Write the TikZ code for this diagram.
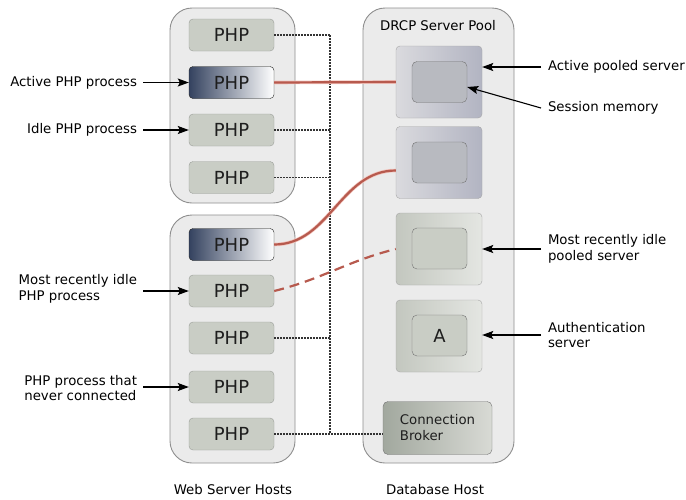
\documentclass[tikz,border=0pt]{standalone}
\usepackage{fontspec}
\setmainfont{DejaVu Sans}
\usetikzlibrary{arrows.meta}

\definecolor{hostfill}{HTML}{EBEBEB}
\definecolor{hostedge}{HTML}{8E8E8E}
\definecolor{phpfill}{HTML}{C9CDC5}
\definecolor{phpedge}{HTML}{9A9E98}
\definecolor{navy}{HTML}{34425F}
\definecolor{busyleft}{HTML}{DADADE}
\definecolor{busyright}{HTML}{B2B4C2}
\definecolor{idleleft}{HTML}{C3C7BF}
\definecolor{idleright}{HTML}{E4E6E2}
\definecolor{memfill}{HTML}{B8BAC0}
\definecolor{brokerleft}{HTML}{A2A89E}
\definecolor{brokerright}{HTML}{D8DAD5}
\definecolor{linkred}{HTML}{B75A4E}
\definecolor{linkhalo}{HTML}{F2C4BC}
\definecolor{textgray}{HTML}{1E1E1E}

\begin{document}
\begin{tikzpicture}[x=1pt, y=-1pt,
  host/.style={rectangle, rounded corners=22pt, draw=hostedge, fill=hostfill, line width=0.9pt, minimum width=125pt},
  php/.style={rectangle, rounded corners=4pt, draw=phpedge, fill=phpfill, minimum width=85pt, minimum height=32pt, inner sep=0pt, text=textgray, font=\fontsize{18}{20}\selectfont},
  activephp/.style={php, draw=black!85, left color=navy, middle color=navy!50, right color=white},
  pool/.style={rectangle, rounded corners=4pt, draw=black!35, minimum width=86pt, minimum height=72pt, inner sep=0pt},
  busypool/.style={pool, left color=busyleft, right color=busyright},
  idlepool/.style={pool, left color=idleleft, right color=idleright},
  mem/.style={rectangle, rounded corners=5pt, draw=black!55, minimum width=55pt, minimum height=41pt, inner sep=0pt, text=textgray, font=\fontsize{18}{20}\selectfont},
  busymem/.style={mem, fill=memfill},
  idlemem/.style={mem, fill=phpfill},
  note/.style={anchor=east, align=left, inner sep=0pt, outer sep=6pt, font=\fontsize{13.3}{15.5}\selectfont},
  rnote/.style={note, anchor=west, outer sep=7pt},
  caption/.style={inner sep=0pt, font=\fontsize{13.3}{15.5}\selectfont},
  pointer/.style={-{Stealth[length=11pt, width=8pt, inset=2pt]}, line width=1.1pt},
  bus/.style={draw=black!80, line width=1.2pt, dash pattern=on 1.5pt off 1.5pt},
  sessionline/.style={draw=linkred, line width=2.2pt},
  session/.style={sessionline, preaction={draw=linkhalo, line width=3.6pt}}
]
\useasboundingbox (0,0) rectangle (686,499);

% Host containers
\node[host, minimum height=195pt] (webtop) at (232.5,105.5) {};
\node[host, minimum height=248pt] (webbot) at (232.5,339) {};
\node[host, minimum width=151pt, minimum height=455pt] (dbhost) at (438.5,235.5) {};
\node[caption] (pooltitle) at (438,26) {DRCP Server Pool};

% PHP processes, first web server
\node[php] (php1) at (231.5,35) {PHP};
\node[activephp] (php2) at (231.5,82.5) {PHP};
\node[php] (php3) at (231.5,130) {PHP};
\node[php] (php4) at (231.5,177.5) {PHP};

% PHP processes, second web server
\node[activephp] (php5) at (231.5,244.5) {PHP};
\node[php] (php6) at (231.5,291) {PHP};
\node[php] (php7) at (231.5,338) {PHP};
\node[php] (php8) at (231.5,387) {PHP};
\node[php] (php9) at (231.5,434) {PHP};

% Pooled servers
\node[busypool] (pool1) at (439,82) {};
\node[busypool] (pool2) at (439,162.5) {};
\node[idlepool] (pool3) at (439,249) {};
\node[idlepool] (pool4) at (439,336) {};
\node[busymem] (mem1) at (439.5,82) {};
\node[busymem] (mem2) at (439.5,162.5) {};
\node[idlemem] (mem3) at (439.5,248.5) {};
\node[idlemem] (mem4) at (439.5,335.5) {A};

% Connection broker
\node[rectangle, rounded corners=5pt, draw=black!55, left color=brokerleft, right color=brokerright,
  minimum width=109pt, minimum height=53pt, align=left, text=textgray,
  font=\fontsize{13.3}{16}\selectfont] (broker) at (437.5,428) {Connection\\Broker};

% Dotted links to the broker
\coordinate (bustop) at (330,35);
\coordinate (busbot) at (330,434);
\draw[bus] (bustop) -- (busbot);
\draw[bus] (php1.east) -- (php1.east -| bustop);
\draw[bus] (php3.east) -- (php3.east -| bustop);
\draw[bus] (php4.east) -- (php4.east -| bustop);
\draw[bus] (php7.east) -- (php7.east -| bustop);
\draw[bus] (php9.east) -- (php9.east -| broker.west);

% Sessions
\draw[session] (php2.east) -- (pool1.west);
\draw[session] (php5.east) to[out=0, in=180] ([yshift=-8pt]pool2.west);
\draw[sessionline, dash pattern=on 10pt off 6pt] (php6.east) to[out=14, in=194] (pool3.west);

% Labels, left
\node[note] (nactive) at (143,82.5) {Active PHP process};
\node[note] (nidle) at (143,130) {Idle PHP process};
\node[note] (nrecent) at (143,289) {Most recently idle\\PHP process};
\node[note] (nnever) at (143,388) {PHP process that\\never connected};
\draw[pointer] (nactive.east) -- (php2.west);
\draw[pointer] (nidle.east) -- (php3.west);
\draw[pointer] (nrecent.east |- php6.west) -- (php6.west);
\draw[pointer] (nnever.east |- php8.west) -- (php8.west);

% Labels, right
\node[rnote] (npool) at (541,67) {Active pooled server};
\node[rnote] (nmem) at (541,108) {Session memory};
\node[rnote] (nidlepool) at (541,249) {Most recently idle\\pooled server};
\node[rnote] (nauth) at (541,335) {Authentication\\server};
\draw[pointer] (npool.west) -- (npool.west -| pool1.east);
\draw[pointer] (nmem.west) -- ([yshift=-5pt]mem1.east);
\draw[pointer] (nidlepool.west) -- (nidlepool.west -| pool3.east);
\draw[pointer] (nauth.west) -- (nauth.west -| pool4.east);

% Captions
\node[caption] (webcap) at (233,490) {Web Server Hosts};
\node[caption] (dbcap) at (435,490) {Database Host};

\end{tikzpicture}
\end{document}
